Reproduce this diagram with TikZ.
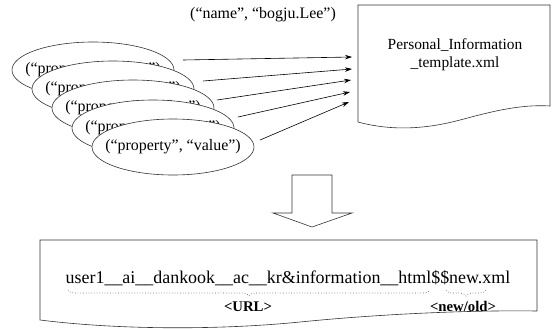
\documentclass[tikz,border=0pt]{standalone}
\usepackage{fontspec}
\setmainfont{Liberation Serif}
\usetikzlibrary{shapes.geometric,decorations.pathreplacing,arrows.meta}
\begin{document}
\begin{tikzpicture}[x=1bp,y=-1bp,
  outline/.style={draw=black!80, line width=0.6bp},
  prop/.style={ellipse, draw=black!80, line width=0.6bp, fill=white,
    minimum width=162bp, minimum height=56bp, inner sep=0pt},
  proptext/.style={inner sep=0pt, font=\fontsize{16}{19}\selectfont},
  arr/.style={-{Stealth[length=7bp,width=4.5bp]}, line width=0.6bp, draw=black},
  lbl/.style={inner sep=0pt, font=\fontsize{16}{19}\selectfont},
  tag/.style={inner sep=0pt, font=\bfseries\fontsize{14.8}{17}\selectfont},
  dotbrace/.style={draw=black!60, dotted, line width=0.7bp,
    decorate, decoration={brace, mirror, amplitude=6bp}}
]
\useasboundingbox (0,0) rectangle (556,328);

% top label
\node[lbl] (pair) at (263,15) {(“name”, “bogju.Lee”)};

% stacked property ellipses
\node[prop] (e1) at (93,70) {};
\node[proptext] (p1) at (e1.center) {(“property”, “value”)};
\node[prop] (e2) at (113,89) {};
\node[proptext] (p2) at (e2.center) {(“property”, “value”)};
\node[prop] (e3) at (133,108) {};
\node[proptext] (p3) at (e3.center) {(“property”, “value”)};
\node[prop] (e4) at (153,128) {};
\node[proptext] (p4) at (e4.center) {(“property”, “value”)};
\node[prop] (e5) at (173,147) {};
\node[proptext] (p5) at (e5.center) {(“property”, “value”)};

% document shape
\draw[outline] (358,122) -- (358,5) -- (550,5) -- (550,106)
  .. controls (520,104) and (490,112) .. (460,120)
  .. controls (430,128) and (395,132) .. (358,122) -- cycle;
\node[inner sep=0pt, align=center, font=\fontsize{15.5}{18}\selectfont] (doc)
  at (455,55) {Personal\_Information\\\_template.xml};

% arrows from ellipses to the document
\coordinate (s1) at (183,60);  \coordinate (t1) at (352,57);
\coordinate (s2) at (203,81);  \coordinate (t2) at (352,69);
\coordinate (s3) at (217,100); \coordinate (t3) at (351,80);
\coordinate (s4) at (238,117); \coordinate (t4) at (350,92);
\coordinate (s5) at (260,140); \coordinate (t5) at (349,102);
\draw[arr] (s1) -- (t1);
\draw[arr] (s2) -- (t2);
\draw[arr] (s3) -- (t3);
\draw[arr] (s4) -- (t4);
\draw[arr] (s5) -- (t5);

% block arrow down
\draw[outline, fill=white] (292,175) -- (332,175) -- (332,213) -- (352,213)
  -- (312,227) -- (273,213) -- (292,213) -- cycle;

% result box with wavy bottom
\draw[outline] (40,320) -- (40,240) -- (537,240) -- (537,311)
  .. controls (470,310) and (380,314) .. (300,322)
  .. controls (220,330) and (120,330) .. (40,320) -- cycle;

\node[inner sep=0pt, font=\fontsize{18}{21}\selectfont] (fname) at (288,278)
  {user1\_\_ai\_\_dankook\_\_ac\_\_kr\&information\_\_html\$\$new.xml};

\coordinate (b1a) at (68,290);  \coordinate (b1b) at (430,290);
\coordinate (b2a) at (446,290); \coordinate (b2b) at (486,290);
\draw[dotbrace] (b1a) -- (b1b);
\draw[dotbrace] (b2a) -- (b2b);

\node[tag] (url) at (248,307) {<URL>};
\node[tag] (nw) at (463,306) {<new/old>};
\end{tikzpicture}
\end{document}
